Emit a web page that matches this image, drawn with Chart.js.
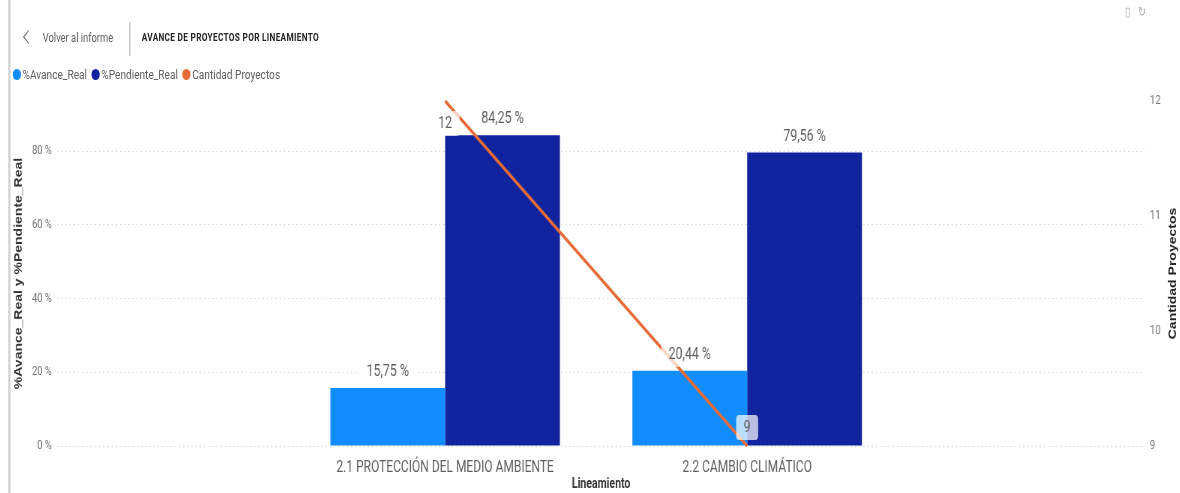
<!DOCTYPE html>
<html>
<head>
<meta charset="utf-8">
<script src="https://cdn.jsdelivr.net/npm/chart.js@4.4.1/dist/chart.umd.min.js"></script>
<style>
body { margin: 0; width: 1180px; height: 493px; overflow: hidden; background: #fff; font-family: Roboto, sans-serif; }
/* el informe original se ve comprimido en horizontal: se dibuja ancho y se encoge */
#pagina { position: absolute; left: 0; top: 0; width: 1574px; height: 493px; transform: scaleX(0.75); transform-origin: 0 0; }
#marco { position: absolute; left: 0; top: 0; width: 1574px; height: 493px; }
#borde { position: absolute; left: 11px; top: 0; width: 2.5px; height: 493px; background: #d2d2d2; }
#flecha { position: absolute; left: 33px; top: 32px; width: 9px; height: 9px; border-left: 1.5px solid #605e5c; border-bottom: 1.5px solid #605e5c; transform: rotate(45deg); }
#volver { position: absolute; left: 57px; top: 30px; color: #605e5c; font-size: 12.5px; }
#sep { position: absolute; left: 172px; top: 22px; width: 1.5px; height: 34px; background: #c8c8c8; }
#titulo { position: absolute; left: 189px; top: 31px; color: #252423; font-size: 11px; font-weight: bold; letter-spacing: 0.4px; }
#leyenda { position: absolute; left: 17px; top: 66px; font-size: 13.5px; color: #605e5c; display: flex; }
#leyenda span.item { margin-right: 6px; display: flex; align-items: center; }
#leyenda span.punto { width: 11px; height: 11px; border-radius: 50%; display: inline-block; margin-right: 2px; }
#iconos { position: absolute; left: 1500px; top: 4px; color: #b0b0b0; font-size: 13px; }
</style>
</head>
<body>
<div id="pagina">
<div id="marco"><canvas id="grafico"></canvas></div>
<div id="borde"></div>
<div id="flecha"></div>
<div id="volver">Volver al informe</div>
<div id="sep"></div>
<div id="titulo">AVANCE DE PROYECTOS POR LINEAMIENTO</div>
<div id="leyenda"></div>
<div id="iconos">▯ &nbsp;&nbsp;↻</div>
</div>
<script>
const categorias = ['2.1 PROTECCIÓN DEL MEDIO AMBIENTE', '2.2 CAMBIO CLIMÁTICO'];
const avanceReal = [15.75, 20.44];
const pendienteReal = [84.25, 79.56];
const cantidadProyectos = [12, 9];
const ticksPorcentaje = [0, 20, 40, 60, 80];
const ticksCantidad = [9, 10, 11, 12];

const fuente = "Roboto, sans-serif";
const fuenteTitulo = "'Liberation Sans', Arial, sans-serif";

function puntos(valores) {
    return valores.map((v, i) => ({ x: i, y: v }));
}

const etiquetas = {
    id: 'etiquetas',
    afterDatasetsDraw(chart) {
        const ctx = chart.ctx;
        ctx.save();
        ctx.textAlign = 'center';
        ctx.textBaseline = 'middle';
        chart.data.datasets.forEach((ds, i) => {
            const meta = chart.getDatasetMeta(i);
            meta.data.forEach((el, j) => {
                const v = ds.data[j].y;
                let texto, y;
                if (ds.type === 'line') {
                    texto = String(v);
                    y = (el.y - 30 < chart.chartArea.top) ? el.y + 22 : el.y - 19;
                } else {
                    texto = v.toFixed(2).replace('.', ',') + ' %';
                    y = el.y - 17;
                }
                ctx.font = '16.5px ' + fuente;
                const w = ctx.measureText(texto).width + 20;
                ctx.fillStyle = 'rgba(255,255,255,0.7)';
                ctx.beginPath();
                ctx.roundRect(el.x - w / 2, y - 12, w, 25, 4);
                ctx.fill();
                ctx.fillStyle = '#605e5c';
                ctx.fillText(texto, el.x, y + 1);
            });
        });
        // titulo del eje derecho, leido de abajo hacia arriba
        ctx.translate(chart.width - 10, (chart.chartArea.top + chart.chartArea.bottom) / 2);
        ctx.rotate(-Math.PI / 2);
        ctx.font = 'bold 14px ' + fuenteTitulo;
        ctx.fillStyle = '#252423';
        ctx.fillText('Cantidad Proyectos', 0, 0);
        ctx.restore();
    }
};

const ctx = document.getElementById('grafico').getContext('2d');

const grafico = new Chart(ctx, {
    data: {
        datasets: [
            {
                type: 'line',
                label: 'Cantidad Proyectos',
                data: puntos(cantidadProyectos),
                yAxisID: 'y2',
                borderColor: '#E66C37',
                backgroundColor: '#E66C37',
                borderWidth: 3.5,
                pointRadius: 0,
                tension: 0,
                clip: false,
                order: 0
            },
            {
                type: 'bar',
                label: '%Avance_Real',
                data: puntos(avanceReal),
                yAxisID: 'y',
                backgroundColor: '#118DFF',
                categoryPercentage: 0.76,
                barPercentage: 1.0,
                order: 1
            },
            {
                type: 'bar',
                label: '%Pendiente_Real',
                data: puntos(pendienteReal),
                yAxisID: 'y',
                backgroundColor: '#12239E',
                categoryPercentage: 0.76,
                barPercentage: 1.0,
                order: 1
            }
        ]
    },
    options: {
        responsive: true,
        maintainAspectRatio: false,
        animation: false,
        layout: { padding: { top: 101, left: 0, right: 0, bottom: 0 } },
        plugins: {
            legend: { display: false },
            tooltip: { enabled: false }
        },
        scales: {
            x: {
                type: 'linear',
                min: -1.285,
                max: 2.318,
                offset: false,
                bounds: 'data',
                grid: { display: false, offset: false },
                border: { display: false },
                afterBuildTicks: s => { s.ticks = categorias.map((c, i) => ({ value: i })); },
                afterFit: s => { s.height = 47; },
                ticks: {
                    autoSkip: false,
                    maxRotation: 0,
                    padding: 4,
                    color: '#605e5c',
                    font: { family: fuente, size: 16 },
                    callback: v => categorias[v]
                },
                title: {
                    display: true,
                    text: 'Lineamiento',
                    color: '#333',
                    font: { family: fuente, size: 14, weight: 'bold' },
                    padding: { top: 0, bottom: 0 }
                }
            },
            y: {
                position: 'left',
                min: 0,
                max: 93.56,
                afterBuildTicks: s => { s.ticks = ticksPorcentaje.map(v => ({ value: v })); },
                afterFit: s => { s.width = 76; },
                grid: { color: '#d2d2d2', lineWidth: 1, drawTicks: false },
                border: { display: false, dash: [1.6, 4] },
                ticks: {
                    padding: 7,
                    color: '#777',
                    font: { family: fuente, size: 12.5 },
                    callback: v => v + ' %'
                },
                title: {
                    display: true,
                    text: '%Avance_Real y %Pendiente_Real',
                    color: '#333',
                    font: { family: fuenteTitulo, size: 14, weight: 'bold' },
                    padding: { top: 17, bottom: 0 }
                }
            },
            y2: {
                position: 'right',
                min: 9,
                max: 12,
                afterBuildTicks: s => { s.ticks = ticksCantidad.map(v => ({ value: v })); },
                afterFit: s => { s.width = 47; },
                grid: { display: false, drawTicks: false },
                border: { display: false },
                ticks: {
                    padding: 6,
                    color: '#777',
                    font: { family: fuente, size: 13 }
                }
            }
        }
    },
    plugins: [etiquetas]
});

// leyenda hecha a partir de los datasets
const orden = ['%Avance_Real', '%Pendiente_Real', 'Cantidad Proyectos'];
const leyenda = document.getElementById('leyenda');
orden.forEach(nombre => {
    const ds = grafico.data.datasets.find(d => d.label === nombre);
    const item = document.createElement('span');
    item.className = 'item';
    item.innerHTML = '<span class="punto" style="background:' + ds.backgroundColor + '"></span>' + nombre;
    leyenda.appendChild(item);
});
</script>
</body>
</html>
